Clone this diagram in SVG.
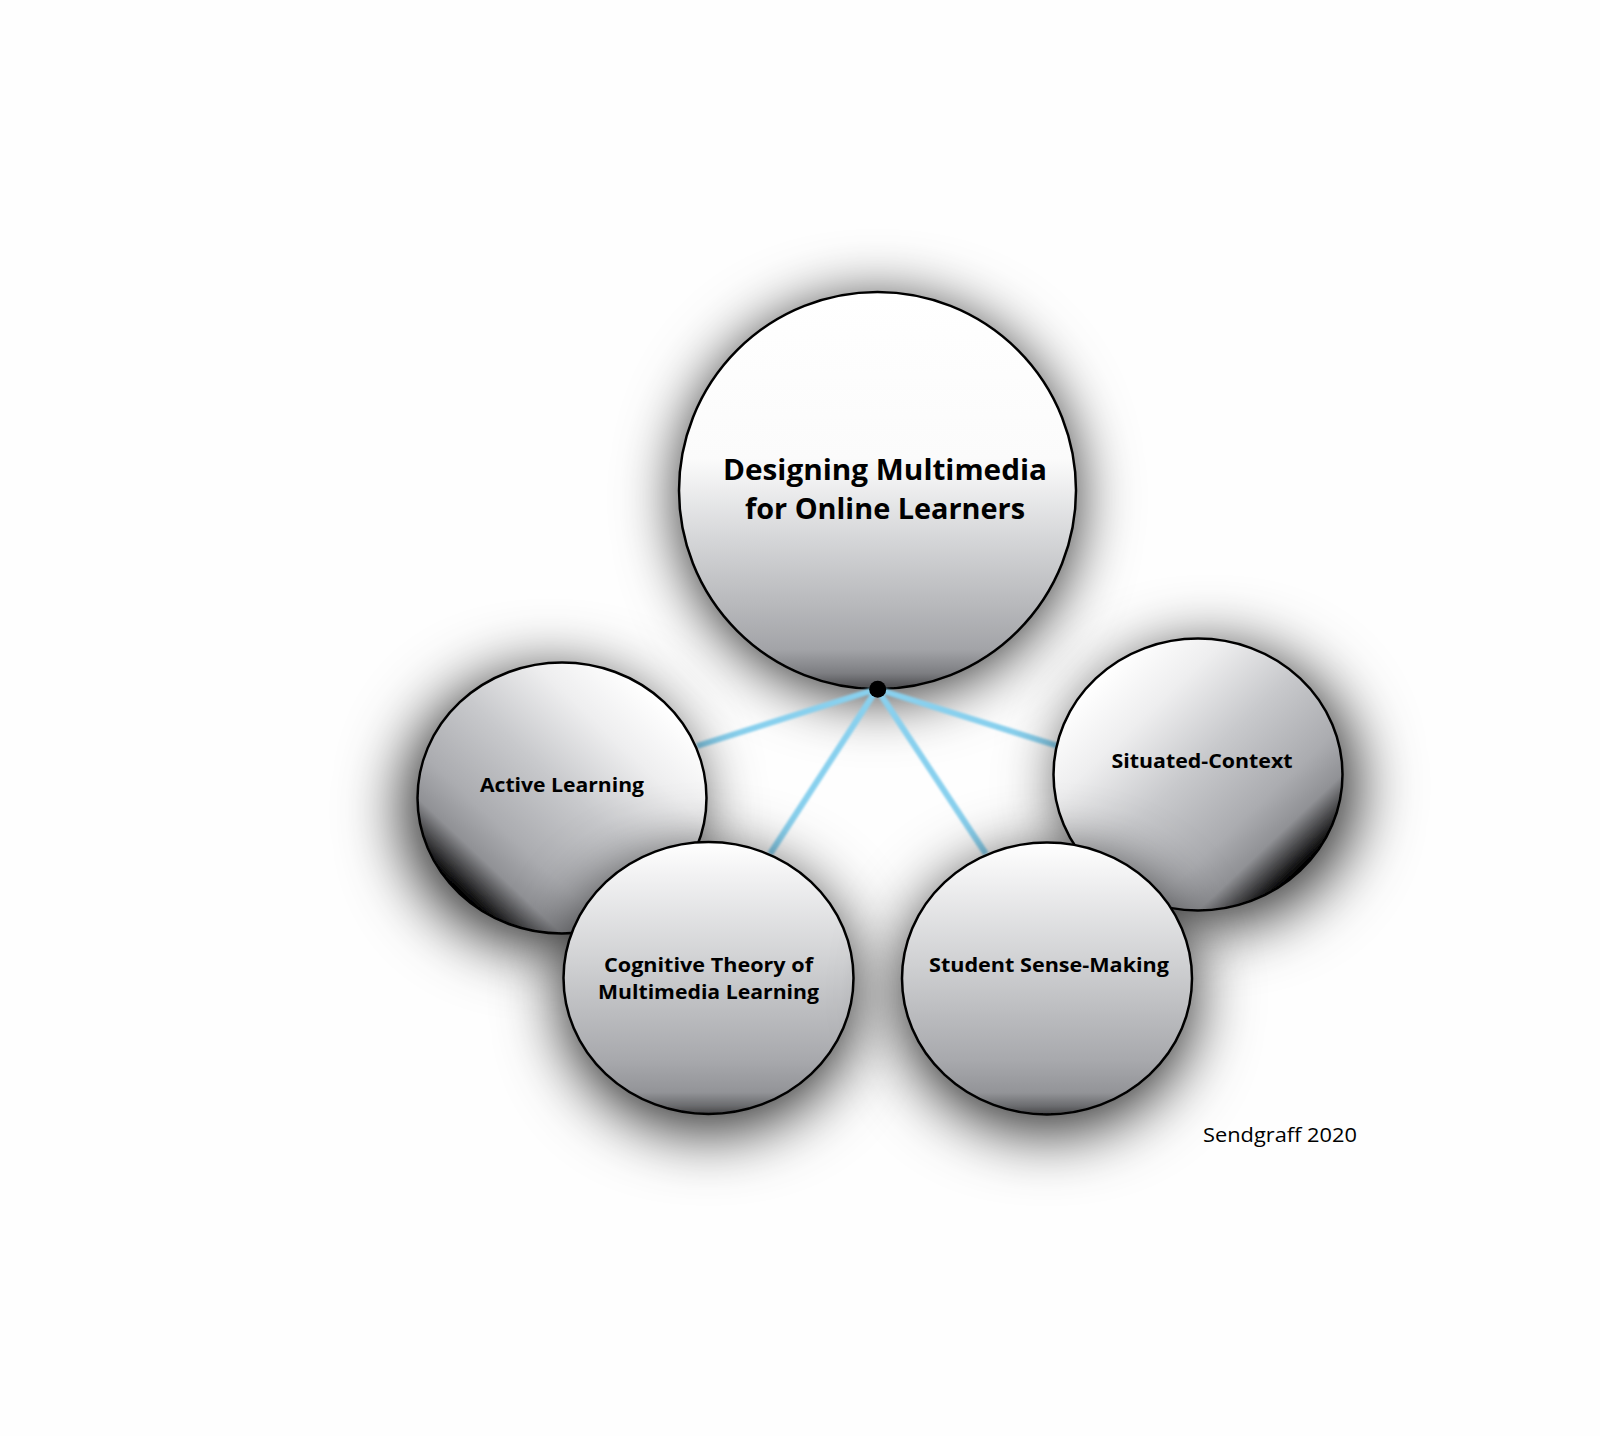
<svg xmlns="http://www.w3.org/2000/svg" width="1600" height="1436" viewBox="0 0 1600 1436">
<style>
.ring{stroke:#000;stroke-width:2.5}
.lbl{font-family:"Open Sans","Liberation Sans",sans-serif;font-weight:bold;fill:#000;text-anchor:middle}
.big{font-size:28px}
.sm{font-size:20px}
.credit{font-family:"Open Sans","Liberation Sans",sans-serif;font-size:20px;fill:#000}
.conn{stroke:#88d0ee;stroke-width:6;fill:none;stroke-linecap:butt}
</style>
<defs>
<filter id="shMain" x="-60%" y="-60%" width="220%" height="220%">
<feGaussianBlur in="SourceAlpha" stdDeviation="30"/>
<feOffset dx="0" dy="8" result="b"/>
<feFlood flood-color="#000" flood-opacity="0.8"/>
<feComposite in2="b" operator="in"/>
<feMerge><feMergeNode/><feMergeNode in="SourceGraphic"/></feMerge>
</filter>
<filter id="shLeft" x="-60%" y="-60%" width="220%" height="220%">
<feGaussianBlur in="SourceAlpha" stdDeviation="32"/>
<feOffset dx="-12" dy="12" result="b"/>
<feFlood flood-color="#000" flood-opacity="0.85"/>
<feComposite in2="b" operator="in"/>
<feMerge><feMergeNode/><feMergeNode in="SourceGraphic"/></feMerge>
</filter>
<filter id="shRight" x="-60%" y="-60%" width="220%" height="220%">
<feGaussianBlur in="SourceAlpha" stdDeviation="32"/>
<feOffset dx="12" dy="12" result="b"/>
<feFlood flood-color="#000" flood-opacity="0.85"/>
<feComposite in2="b" operator="in"/>
<feMerge><feMergeNode/><feMergeNode in="SourceGraphic"/></feMerge>
</filter>
<filter id="shDown" x="-60%" y="-60%" width="220%" height="220%">
<feGaussianBlur in="SourceAlpha" stdDeviation="32"/>
<feOffset dx="0" dy="16" result="b"/>
<feFlood flood-color="#000" flood-opacity="0.85"/>
<feComposite in2="b" operator="in"/>
<feMerge><feMergeNode/><feMergeNode in="SourceGraphic"/></feMerge>
</filter>
<filter id="glow" x="-10%" y="-10%" width="120%" height="120%">
<feGaussianBlur stdDeviation="0.8"/>
</filter>
<linearGradient id="gVert" x1="0" y1="0" x2="0" y2="1">
<stop offset="0" stop-color="#ffffff"/>
<stop offset="0.42" stop-color="#fbfbfb"/>
<stop offset="0.6" stop-color="#d9dadc"/>
<stop offset="0.78" stop-color="#b9babd"/>
<stop offset="0.9" stop-color="#a3a4a8"/>
<stop offset="0.96" stop-color="#7d7e82"/>
<stop offset="1" stop-color="#4a4a4d"/>
</linearGradient>
<linearGradient id="gSmall" x1="0" y1="0" x2="0" y2="1">
<stop offset="0" stop-color="#ffffff"/>
<stop offset="0.12" stop-color="#f2f2f3"/>
<stop offset="0.45" stop-color="#cfd0d2"/>
<stop offset="0.8" stop-color="#a8a9ad"/>
<stop offset="0.92" stop-color="#939498"/>
<stop offset="0.97" stop-color="#6a6b6e"/>
<stop offset="1" stop-color="#454547"/>
</linearGradient>
<linearGradient id="gLeft" x1="1" y1="0" x2="0" y2="1">
<stop offset="0.15" stop-color="#ffffff"/>
<stop offset="0.3" stop-color="#eeeeef"/>
<stop offset="0.48" stop-color="#c8c9cc"/>
<stop offset="0.66" stop-color="#abacb0"/>
<stop offset="0.75" stop-color="#909195"/>
<stop offset="0.81" stop-color="#3a3a3c"/>
<stop offset="0.85" stop-color="#000000"/>
</linearGradient>
<linearGradient id="gRight" x1="0" y1="0" x2="1" y2="1">
<stop offset="0.15" stop-color="#ffffff"/>
<stop offset="0.3" stop-color="#eeeeef"/>
<stop offset="0.48" stop-color="#c8c9cc"/>
<stop offset="0.66" stop-color="#abacb0"/>
<stop offset="0.75" stop-color="#909195"/>
<stop offset="0.81" stop-color="#3a3a3c"/>
<stop offset="0.85" stop-color="#000000"/>
</linearGradient>
</defs>
<rect width="1600" height="1436" fill="#fefefe"/>

<g id="node-main">
<circle cx="877.5" cy="490.5" r="198.5" fill="url(#gVert)" class="ring" filter="url(#shMain)"/>
<text class="lbl big" x="885" y="480" textLength="324" lengthAdjust="spacingAndGlyphs">Designing Multimedia</text>
<text class="lbl big" x="885" y="519" textLength="280" lengthAdjust="spacingAndGlyphs">for Online Learners</text>
</g>

<g id="connectors">
<g filter="url(#glow)">
<line class="conn" x1="877" y1="689" x2="697" y2="746"/>
<line class="conn" x1="877" y1="689" x2="770" y2="854"/>
<line class="conn" x1="877" y1="689" x2="1058" y2="746"/>
<line class="conn" x1="877" y1="689" x2="986" y2="854"/>
</g>
<circle cx="877.7" cy="689.3" r="8.5" fill="#000"/>
</g>

<g id="node-active">
<ellipse cx="562" cy="798" rx="144.5" ry="135.5" fill="url(#gLeft)" class="ring" filter="url(#shLeft)"/>
<text class="lbl sm" x="562" y="792" textLength="164" lengthAdjust="spacingAndGlyphs">Active Learning</text>
</g>

<g id="node-situated">
<ellipse cx="1198" cy="774.5" rx="144.5" ry="136" fill="url(#gRight)" class="ring" filter="url(#shRight)"/>
<text class="lbl sm" x="1202" y="768" textLength="181" lengthAdjust="spacingAndGlyphs">Situated-Context</text>
</g>

<g id="node-cognitive">
<ellipse cx="708.5" cy="978" rx="145" ry="136" fill="url(#gSmall)" class="ring" filter="url(#shDown)"/>
<text class="lbl sm" x="708.5" y="972" textLength="209" lengthAdjust="spacingAndGlyphs">Cognitive Theory of</text>
<text class="lbl sm" x="708.5" y="999" textLength="221" lengthAdjust="spacingAndGlyphs">Multimedia Learning</text>
</g>

<g id="node-student">
<ellipse cx="1047" cy="978.5" rx="145" ry="136" fill="url(#gSmall)" class="ring" filter="url(#shDown)"/>
<text class="lbl sm" x="1049" y="972" textLength="240" lengthAdjust="spacingAndGlyphs">Student Sense-Making</text>
</g>

<text class="credit" x="1203" y="1142" textLength="154" lengthAdjust="spacingAndGlyphs">Sendgraff 2020</text>
</svg>
